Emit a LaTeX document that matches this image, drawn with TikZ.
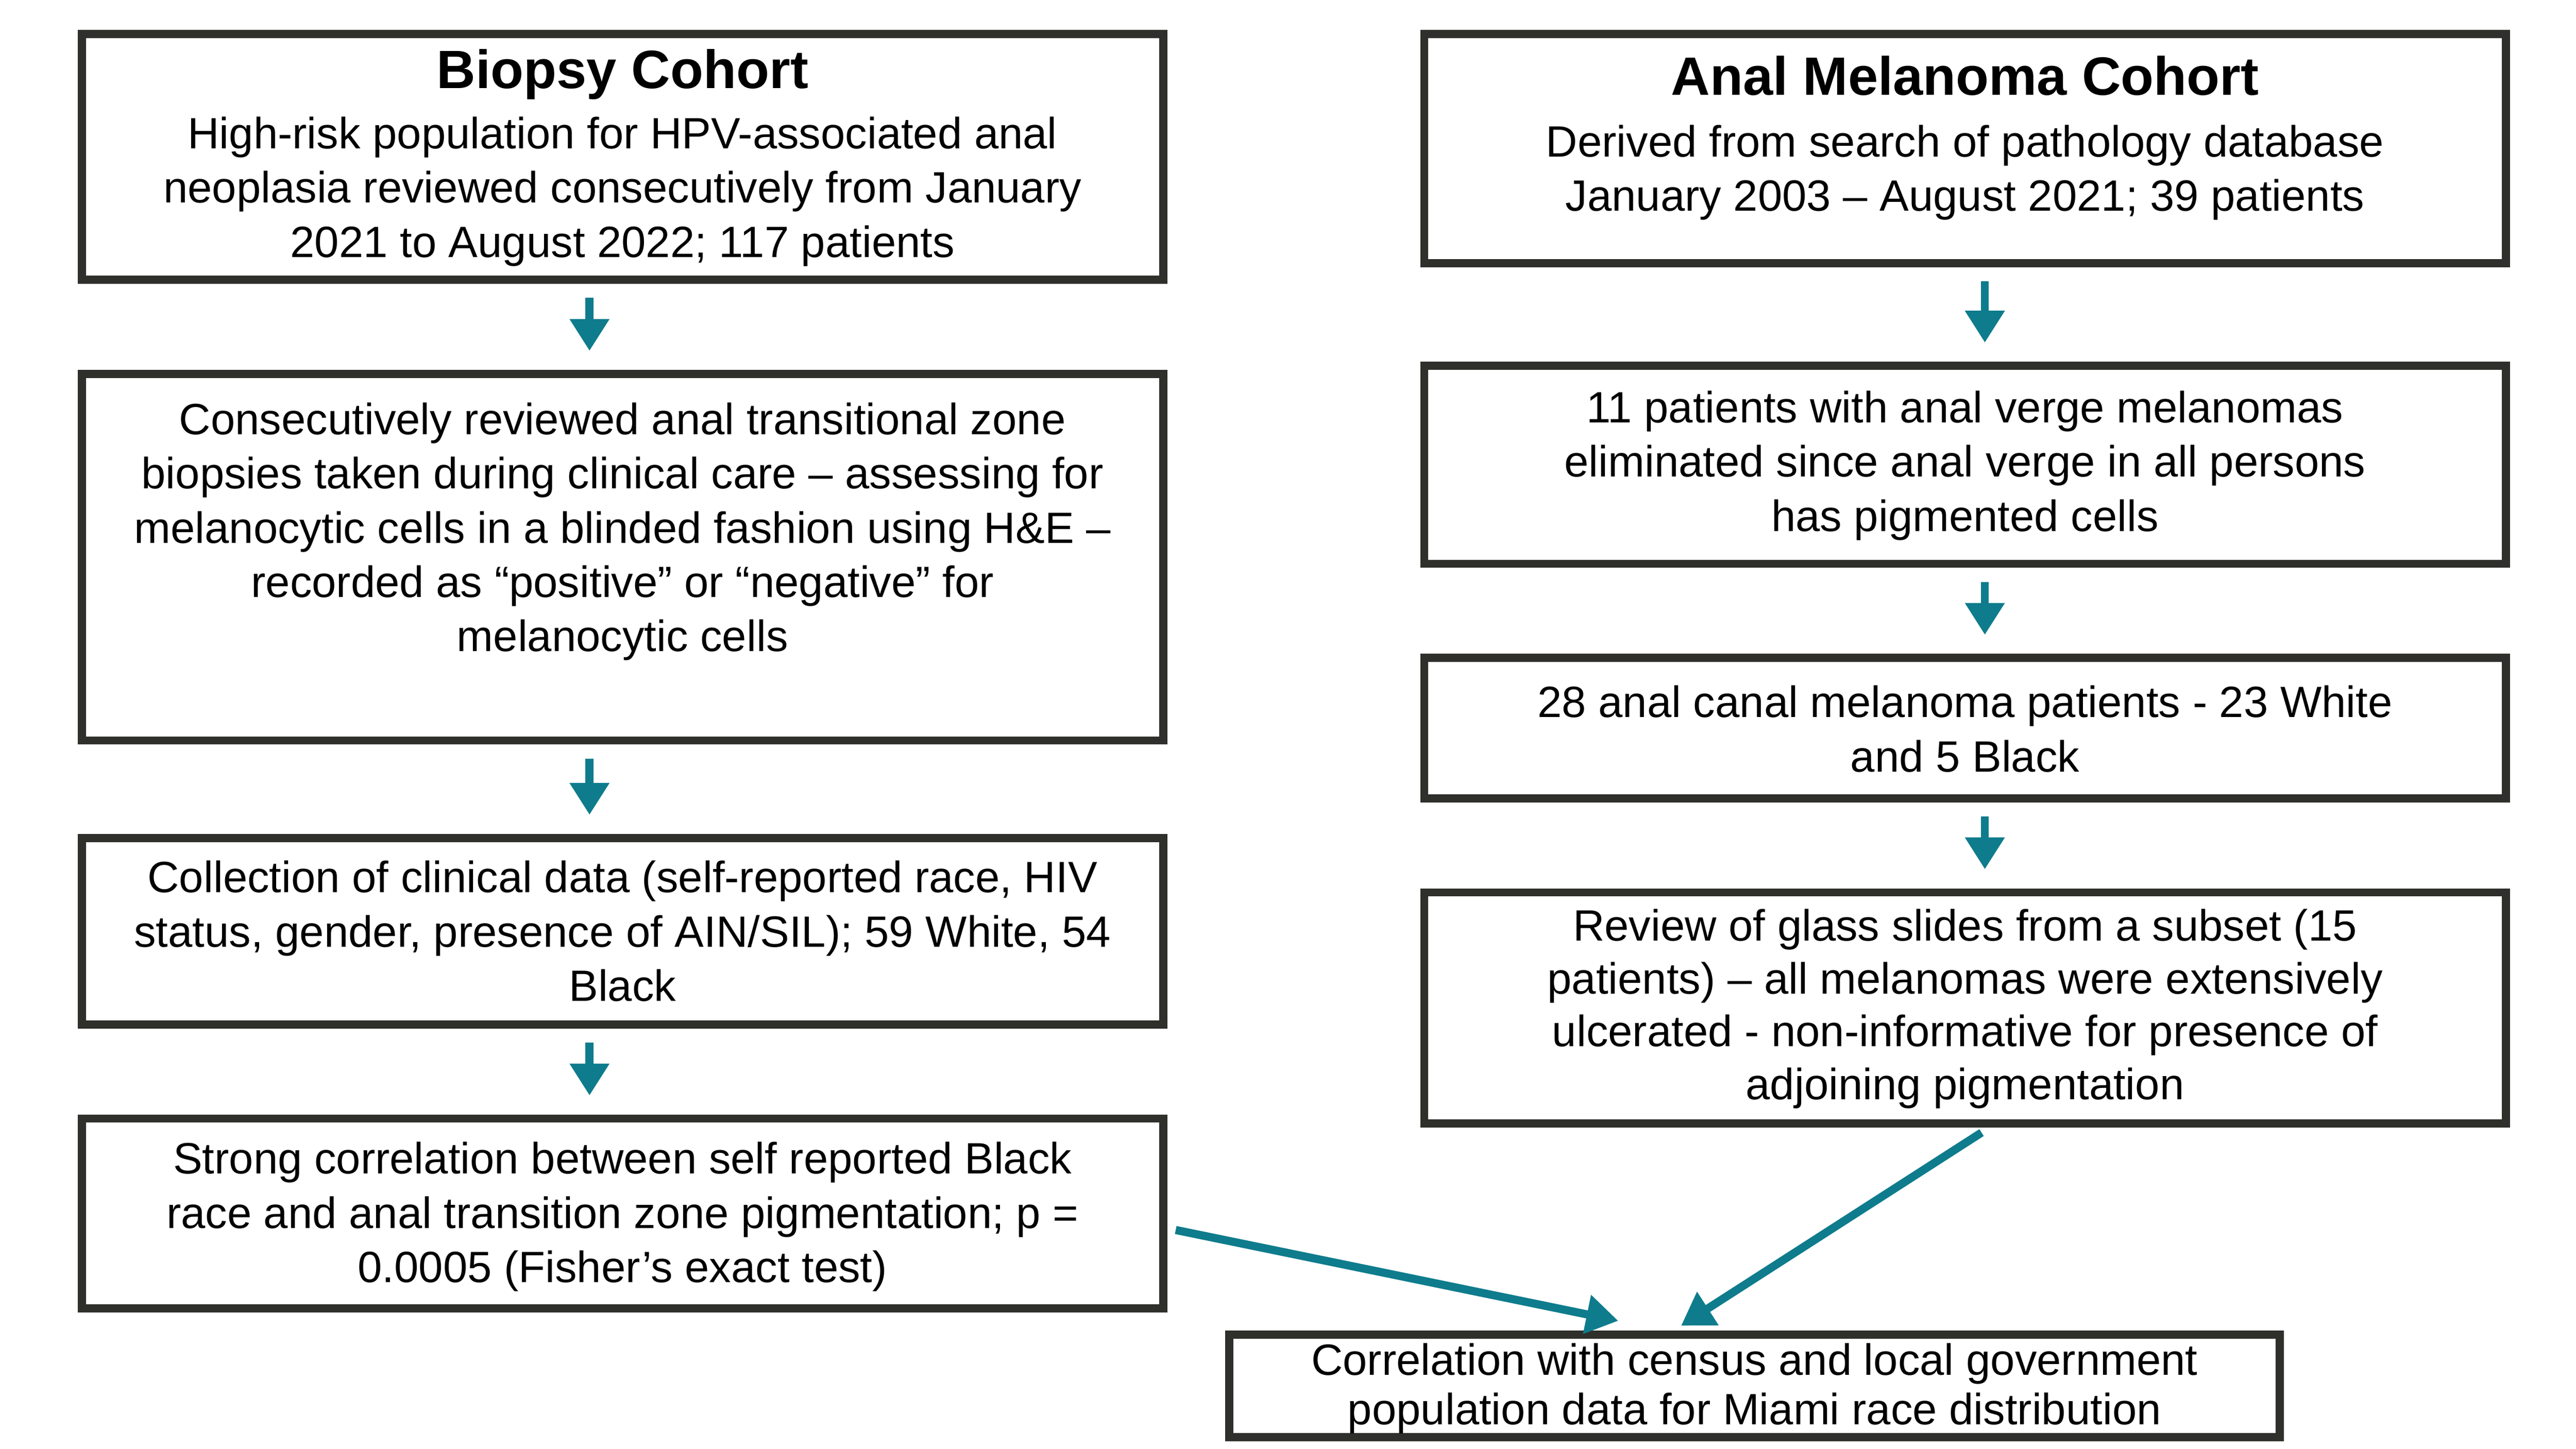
\documentclass[tikz,border=0pt]{standalone}
\usepackage{fontspec}
\setmainfont{Liberation Sans}
\usepackage{tikz}
\usetikzlibrary{arrows.meta}
\definecolor{boxgray}{HTML}{2F2F2B}
\definecolor{teal}{HTML}{0E7C8C}
\begin{document}
\begin{tikzpicture}[box/.style={draw=boxgray, line width=2.8pt, inner sep=0, minimum height=#1},
    mybox/.style={box=1cm, minimum width=13.1cm},
    txt/.style={align=center, font=\fontsize{15.1}{18.7}\selectfont, inner sep=0},
    ttl/.style={font=\fontsize{18.6}{22}\selectfont\bfseries, inner sep=0},
    arrow/.style={teal, line width=2.8pt, -{Triangle[width=13pt, length=11pt]}}]
    \useasboundingbox (0,0) rectangle (31.2,-17.55);
    % left column
    \node [mybox, minimum height=2.98cm] (B1) at (7.54,-1.90) {};
    \node [ttl] (B1t) at (7.54,-0.90) {Biopsy Cohort};
    \node [txt] (B1b) at (7.54,-2.32) {High-risk population for HPV-associated anal\\neoplasia reviewed consecutively from January\\2021 to August 2022; 117 patients};
    \node [mybox, minimum height=4.44cm] (B2) at (7.54,-6.75) {};
    \node [txt] (B2b) at (7.54,-6.44) {Consecutively reviewed anal transitional zone\\biopsies taken during clinical care -- assessing for\\melanocytic cells in a blinded fashion using H\&E --\\recorded as “positive” or “negative” for\\melanocytic cells};
    \node [mybox, minimum height=2.26cm] (B3) at (7.54,-11.28) {};
    \node [txt] (B3b) at (7.54,-11.28) {Collection of clinical data (self-reported race, HIV\\status, gender, presence of AIN/SIL); 59 White, 54\\Black};
    \node [mybox, minimum height=2.30cm] (B4) at (7.54,-14.70) {};
    \node [txt] (B4b) at (7.54,-14.74) {Strong correlation between self reported Black\\race and anal transition zone pigmentation; p =\\0.0005 (Fisher’s exact test)};
    % right column
    \node [mybox, minimum height=2.78cm] (R1) at (23.8,-1.80) {};
    \node [ttl] (R1t) at (23.8,-0.92) {Anal Melanoma Cohort};
    \node [txt] (R1b) at (23.8,-2.09) {Derived from search of pathology database\\January 2003 -- August 2021; 39 patients};
    \node [mybox, minimum height=2.40cm] (R2) at (23.8,-5.63) {};
    \node [txt] (R2b) at (23.8,-5.64) {11 patients with anal verge melanomas\\eliminated since anal verge in all persons\\has pigmented cells};
    \node [mybox, minimum height=1.70cm] (R3) at (23.8,-8.82) {};
    \node [txt] (R3b) at (23.8,-8.83) {28 anal canal melanoma patients - 23 White\\and 5 Black};
    \node [mybox, minimum height=2.80cm] (R4) at (23.8,-12.21) {};
    \node [txt, font=\fontsize{15.1}{18.2}\selectfont] (R4b) at (23.8,-12.22) {Review of glass slides from a subset (15\\patients) -- all melanomas were extensively\\ulcerated - non-informative for presence of\\adjoining pigmentation};
    % bottom
    \node [box=1.24cm, minimum width=12.72cm] (BT) at (21.25,-16.79) {};
    \node [txt, font=\fontsize{15.1}{17}\selectfont] (BTb) at (21.25,-16.82) {Correlation with census and local government\\population data for Miami race distribution};
    % arrows
    \foreach \a/\b/\d in {B1/B2/-0.4,B2/B3/-0.4,B3/B4/-0.4,R1/R2/0.24,R2/R3/0.24,R3/R4/0.24} {
      \draw [arrow, shorten <=0.17cm, shorten >=0.23cm] ([xshift=\d cm]\a.south) -- ([xshift=\d cm]\b.north);};
    \coordinate (s1) at (14.24,-14.90);
    \coordinate (e1) at (19.60,-16.00);
    \coordinate (s2) at (24.00,-13.72);
    \coordinate (e2) at (20.36,-16.06);
    \draw [arrow] (s1) -- (e1);
    \draw [arrow] (s2) -- (e2);
\end{tikzpicture}
\end{document}
